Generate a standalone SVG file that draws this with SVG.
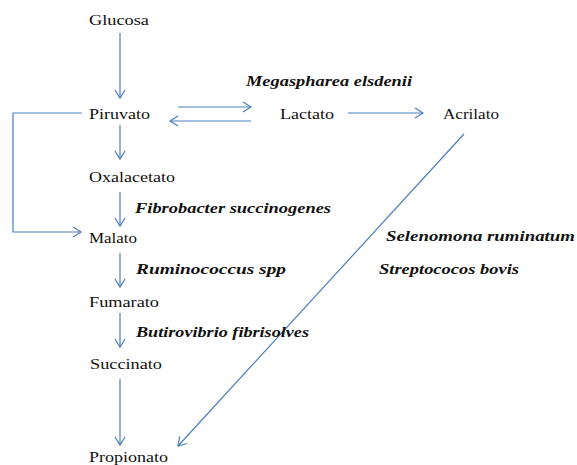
<svg xmlns="http://www.w3.org/2000/svg" width="577" height="465" viewBox="0 0 577 465">
<style>
.n{font-family:"Liberation Serif","Times New Roman",serif;font-size:15px;fill:#111}
.b{font-family:"Liberation Serif","Times New Roman",serif;font-size:15px;font-weight:bold;font-style:italic;fill:#111}
.c{fill:none;stroke:#4a7ebb;stroke-width:1.2}
</style>
<defs>
<marker id="ah" markerUnits="userSpaceOnUse" markerWidth="12" markerHeight="14" refX="9" refY="6" orient="auto" viewBox="0 0 12 12">
<path d="M1,1 L9,6 L1,11" fill="none" stroke="#4a7ebb" stroke-width="1.2"/>
</marker>
</defs>
<rect width="577" height="465" fill="#fff"/>
<g id="connectors">
<line class="c" x1="120" y1="33" x2="120" y2="98" marker-end="url(#ah)"/>
<line class="c" x1="178" y1="107" x2="251" y2="107" marker-end="url(#ah)"/>
<line class="c" x1="251" y1="121" x2="170" y2="121" marker-end="url(#ah)"/>
<line class="c" x1="348" y1="113" x2="423" y2="113" marker-end="url(#ah)"/>
<line class="c" x1="120" y1="125" x2="120" y2="159" marker-end="url(#ah)"/>
<polyline class="c" points="82,113 13,113 13,232 81,232" marker-end="url(#ah)"/>
<line class="c" x1="120" y1="192" x2="120" y2="226" marker-end="url(#ah)"/>
<line class="c" x1="120" y1="253" x2="120" y2="287" marker-end="url(#ah)"/>
<line class="c" x1="120" y1="313" x2="120" y2="347" marker-end="url(#ah)"/>
<line class="c" x1="120" y1="379" x2="120" y2="445" marker-end="url(#ah)"/>
<line class="c" x1="464" y1="134" x2="178" y2="446" marker-end="url(#ah)"/>
</g>
<g id="glucosa"><text class="n" x="89" y="25" textLength="60" lengthAdjust="spacingAndGlyphs">Glucosa</text></g>
<g id="piruvato"><text class="n" x="89" y="119" textLength="61" lengthAdjust="spacingAndGlyphs">Piruvato</text></g>
<g id="lactato"><text class="n" x="280" y="119" textLength="54" lengthAdjust="spacingAndGlyphs">Lactato</text></g>
<g id="acrilato"><text class="n" x="443" y="119" textLength="56" lengthAdjust="spacingAndGlyphs">Acrilato</text></g>
<g id="oxalacetato"><text class="n" x="89" y="182" textLength="86" lengthAdjust="spacingAndGlyphs">Oxalacetato</text></g>
<g id="malato"><text class="n" x="89" y="243" textLength="48" lengthAdjust="spacingAndGlyphs">Malato</text></g>
<g id="fumarato"><text class="n" x="89" y="307" textLength="70" lengthAdjust="spacingAndGlyphs">Fumarato</text></g>
<g id="succinato"><text class="n" x="90" y="369" textLength="72" lengthAdjust="spacingAndGlyphs">Succinato</text></g>
<g id="propionato"><text class="n" x="89" y="462" textLength="79" lengthAdjust="spacingAndGlyphs">Propionato</text></g>
<g id="labels">
<text class="b" x="246" y="86" textLength="166" lengthAdjust="spacingAndGlyphs">Megaspharea elsdenii</text>
<text class="b" x="135" y="213" textLength="196" lengthAdjust="spacingAndGlyphs">Fibrobacter succinogenes</text>
<text class="b" x="136" y="274" textLength="150" lengthAdjust="spacingAndGlyphs">Ruminococcus  spp</text>
<text class="b" x="136" y="337" textLength="173" lengthAdjust="spacingAndGlyphs">Butirovibrio fibrisolves</text>
<text class="b" x="386" y="241" textLength="189" lengthAdjust="spacingAndGlyphs">Selenomona ruminatum</text>
<text class="b" x="379" y="274" textLength="140" lengthAdjust="spacingAndGlyphs">Streptococos bovis</text>
</g>
</svg>
